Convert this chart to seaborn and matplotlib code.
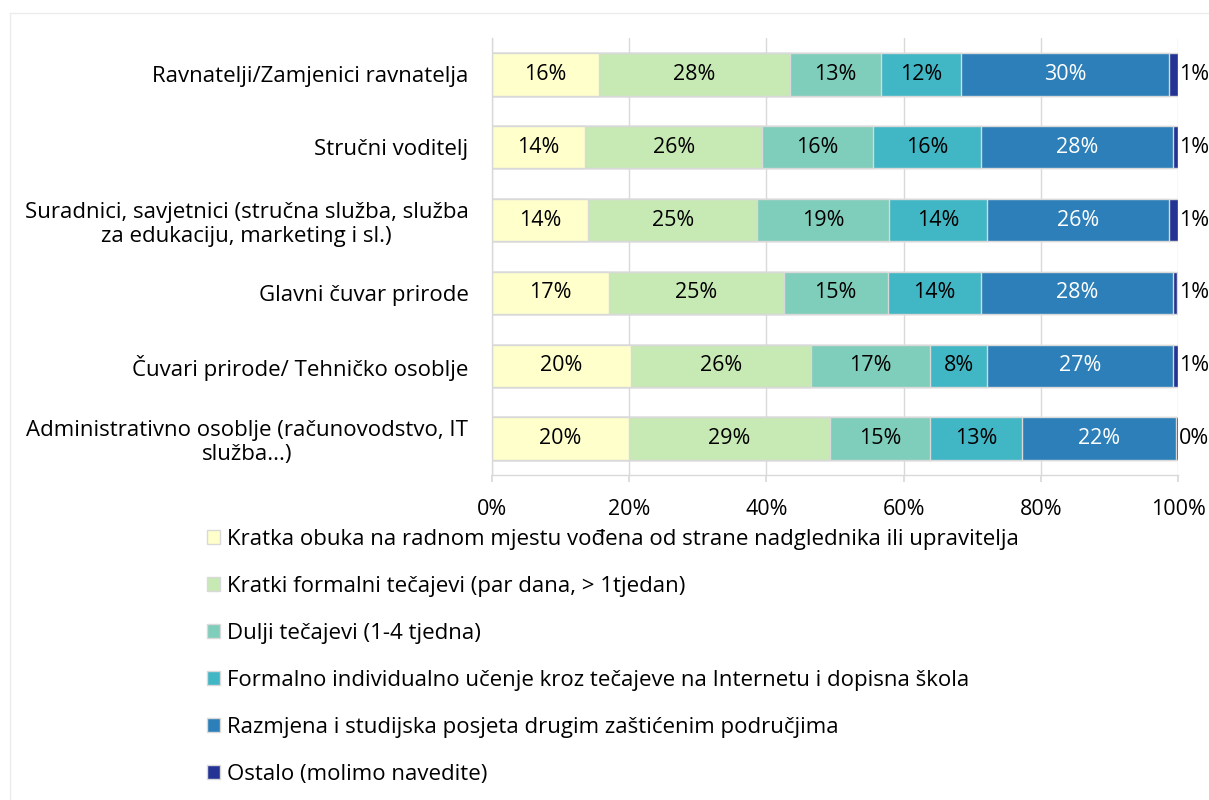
import matplotlib
matplotlib.use("Agg")
import matplotlib.pyplot as plt
from matplotlib.lines import Line2D
from matplotlib.patches import Patch
import numpy as np
import pandas as pd
import seaborn as sns

# data (percent of respondents per staff group)
groups = [
    "Ravnatelji/Zamjenici ravnatelja",
    "Stručni voditelj",
    "Suradnici, savjetnici (stručna služba, služba\nza edukaciju, marketing i sl.)",
    "Glavni čuvar prirode",
    "Čuvari prirode/ Tehničko osoblje",
    "Administrativno osoblje (računovodstvo, IT\nslužba...)",
]
series_names = [
    "Kratka obuka na radnom mjestu vođena od strane nadglednika ili upravitelja",
    "Kratki formalni tečajevi (par dana, > 1tjedan)",
    "Dulji tečajevi (1-4 tjedna)",
    "Formalno individualno učenje kroz tečajeve na Internetu i dopisna škola",
    "Razmjena i studijska posjeta drugim zaštićenim područjima",
    "Ostalo (molimo navedite)",
]
kratka_obuka = [15.6, 13.6, 14.0, 17.1, 20.2, 19.9]
kratki_tecajevi = [27.8, 25.8, 24.7, 25.4, 26.3, 29.4]
dulji_tecajevi = [13.3, 16.1, 19.2, 15.2, 17.4, 14.6]
individualno = [11.7, 15.8, 14.3, 13.6, 8.3, 13.3]
razmjena = [30.3, 28.0, 26.5, 27.9, 27.1, 22.5]
ostalo = [1.3, 0.7, 1.3, 0.7, 0.7, 0.3]

colors = ["#FFFFCC", "#C7E9B4", "#7FCDBB", "#41B6C4", "#2C7FB8", "#253494"]
text_colors = ["black", "black", "black", "black", "white", "black"]

sns.set_theme(style="white")
plt.rcParams["font.family"] = ["Open Sans", "DejaVu Sans"]
plt.rcParams["text.color"] = "black"
plt.rcParams["xtick.labelcolor"] = "black"
plt.rcParams["ytick.labelcolor"] = "black"

values = np.array([kratka_obuka, kratki_tecajevi, dulji_tecajevi,
                   individualno, razmjena, ostalo])
cum = values.cumsum(axis=0)

fig = plt.figure(figsize=(12.09, 8.0), dpi=100)
ax = fig.add_axes([492 / 1209, 325 / 800, 686 / 1209, 437 / 800])

# stacked bars: draw cumulative totals from the outermost segment inward
for i in range(len(series_names) - 1, -1, -1):
    df = pd.DataFrame({"group": groups, "value": cum[i]})
    sns.barplot(data=df, x="value", y="group", orient="h", color=colors[i],
                width=0.58, edgecolor="#d9d9d9", linewidth=1.0,
                saturation=1, ax=ax, zorder=2)

# segment labels
for i in range(len(series_names)):
    for j in range(len(groups)):
        v = values[i, j]
        label = f"{v:.0f}%"
        if i == len(series_names) - 1:
            ax.text(cum[i, j] + 0.2, j, label, ha="left", va="center",
                    fontsize=15.5, color="black", clip_on=False)
        else:
            ax.text(cum[i, j] - v / 2, j, label, ha="center", va="center",
                    fontsize=15.5, color=text_colors[i])

ax.set_xlim(0, 100)
ax.set_ylim(len(groups) - 0.5, -0.5)
ax.set_xticks([0, 20, 40, 60, 80, 100])
ax.set_xticklabels([f"{t}%" for t in [0, 20, 40, 60, 80, 100]])
ax.xaxis.grid(True, color="#d9d9d9", linewidth=1.0)
ax.set_axisbelow(True)
ax.set_xlabel("")
ax.set_ylabel("")

for side in ["top", "right"]:
    ax.spines[side].set_visible(False)
for side in ["left", "bottom"]:
    ax.spines[side].set_color("#d9d9d9")
    ax.spines[side].set_linewidth(1.0)

ax.tick_params(axis="x", bottom=True, length=5, color="#d9d9d9", pad=12,
               labelsize=15.5, labelcolor="black")
ax.tick_params(axis="y", left=False, pad=11, labelsize=16, labelcolor="black")
for lab in ax.get_yticklabels():
    lab.set_multialignment("center")

handles = [Patch(facecolor=c, edgecolor="#d9d9d9", label=n)
           for c, n in zip(colors, series_names)]
leg = fig.legend(handles=handles, loc="upper left",
                 bbox_to_anchor=(198 / 1209, 1 - 520 / 800), frameon=False,
                 fontsize=16, handlelength=0.6, handleheight=0.6,
                 handletextpad=0.3, labelspacing=1.17, borderaxespad=0)
for t in leg.get_texts():
    t.set_color("black")

# faint outer chart border
fig.add_artist(Line2D([10 / 1209, 1], [1 - 13 / 800, 1 - 13 / 800],
                      color="#ececec", linewidth=1, transform=fig.transFigure))
fig.add_artist(Line2D([10 / 1209, 10 / 1209], [0, 1 - 13 / 800],
                      color="#ececec", linewidth=1, transform=fig.transFigure))

fig.savefig("out.png", dpi=100)
